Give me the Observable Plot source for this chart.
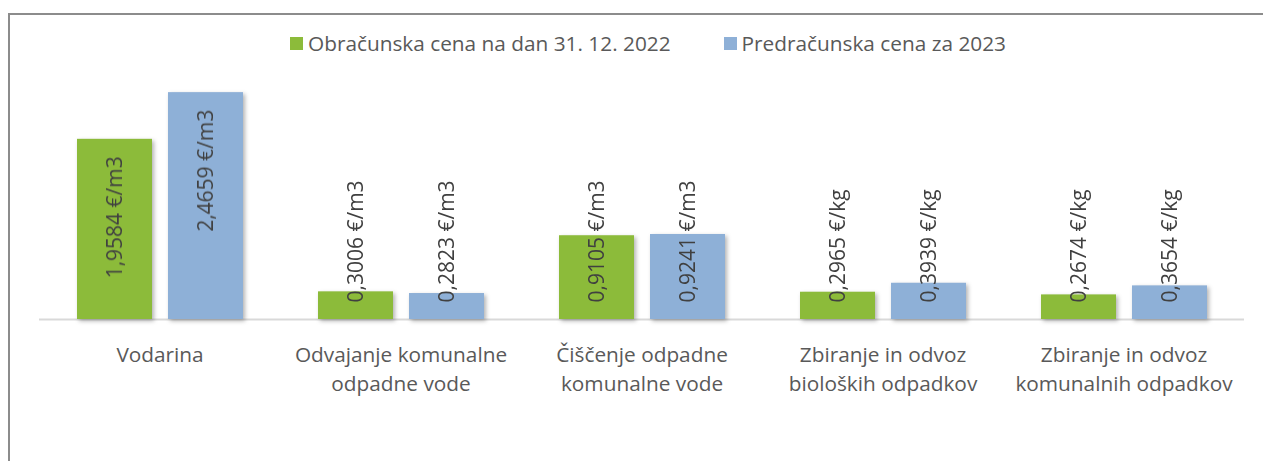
<!DOCTYPE html>
<html><head><meta charset="utf-8">
<script src="https://cdn.jsdelivr.net/npm/d3@7"></script>
<script src="https://cdn.jsdelivr.net/npm/@observablehq/plot@0.6"></script>
<style>
html,body{margin:0;padding:0;overflow:hidden;background:#fff;width:1263px;height:461px;}
#frame{position:absolute;left:8px;top:13px;width:1400px;height:600px;border-left:2px solid #8c8c8c;border-top:2px solid #8c8c8c;box-sizing:border-box;}
#legend{position:absolute;top:30px;left:290px;height:26px;display:flex;align-items:center;font-family:"Open Sans",sans-serif;font-size:20.8px;color:#595959;white-space:nowrap;}
.item{display:flex;align-items:center;}
.sw{width:13px;height:13px;margin-right:5px;}
#chart{position:absolute;left:0;top:60px;}
</style>
</head><body>
<div id="frame"></div>
<div id="legend"></div>
<div id="chart"></div>
<script>
const categories = ["Vodarina", "Odvajanje komunalne\nodpadne vode", "Čiščenje odpadne\nkomunalne vode", "Zbiranje in odvoz\nbioloških odpadkov", "Zbiranje in odvoz\nkomunalnih odpadkov"];
const series = ["Obračunska cena na dan 31. 12. 2022", "Predračunska cena za 2023"];
const values2022 = [1.9584, 0.3006, 0.9105, 0.2965, 0.2674];
const values2023 = [2.4659, 0.2823, 0.9241, 0.3939, 0.3654];
const units = ["€/m3", "€/m3", "€/m3", "€/kg", "€/kg"];
const colors = ["#8cbb3a", "#8eb0d7"];

const data = categories.flatMap((c, i) => [
  {cat: c, s: series[0], v: values2022[i], u: units[i]},
  {cat: c, s: series[1], v: values2023[i], u: units[i]}
]);
const fmt = d => d.v.toFixed(4).replace(".", ",") + " " + d.u;
const inside = d => d.v > 1.5;

// legend
const leg = document.getElementById("legend");
series.forEach((s, i) => {
  const it = document.createElement("div");
  it.className = "item";
  if (i > 0) it.style.marginLeft = "53px";
  it.innerHTML = `<div class="sw" style="background:${colors[i]}"></div><span>${s}</span>`;
  leg.appendChild(it);
});

const plot = Plot.plot({
  width: 1263, height: 401,
  marginLeft: 39, marginRight: 19, marginTop: 29, marginBottom: 142,
  fx: {domain: categories, padding: 0, label: null, axis: null},
  x: {domain: series, paddingInner: 0.176, paddingOuter: 0.412, axis: null},
  y: {domain: [0, 2.5], axis: null},
  color: {domain: series, range: colors},
  style: {fontFamily: "Open Sans, sans-serif", fontSize: "21px", color: "#595959", background: "transparent"},
  marks: [
    Plot.ruleY([0], {stroke: "#d9d9d9", strokeWidth: 2}),
    Plot.barY(data, {fx: "cat", x: "s", y: "v", fill: "s"}),
    Plot.text(data.filter(inside), {fx: "cat", x: "s", y: "v", text: fmt, rotate: -90, textAnchor: "end", lineAnchor: "middle", dy: 17, fontSize: 21, fill: "#404040"}),
    Plot.text(data.filter(d => !inside(d)), {fx: "cat", x: "s", y: 0, text: fmt, rotate: -90, textAnchor: "start", lineAnchor: "middle", dy: -17, fontSize: 21, fill: "#404040"}),
    Plot.axisFx({anchor: "bottom", tickSize: 0, tickPadding: 22, fontSize: 20.8, lineHeight: 1.4, label: null})
  ]
});
plot.querySelectorAll('g[aria-label="bar"]').forEach(g => g.style.filter = "drop-shadow(2px 2px 2px rgba(0,0,0,0.3))");
document.getElementById("chart").appendChild(plot);
</script>
</body></html>
